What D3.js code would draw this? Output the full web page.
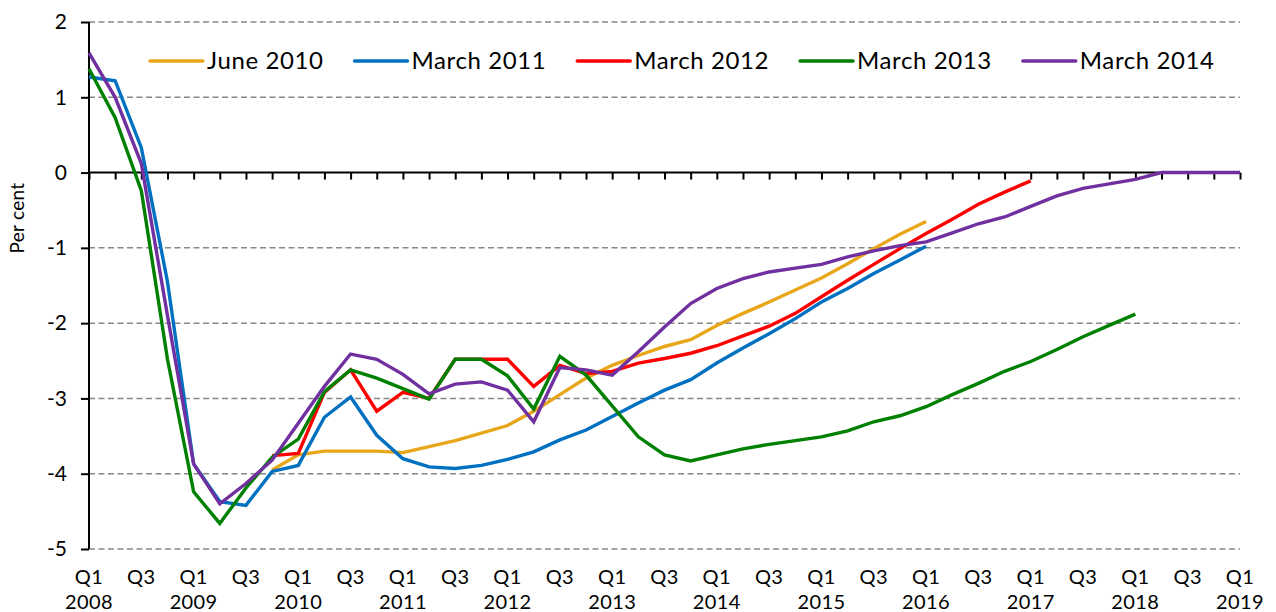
<!DOCTYPE html>
<html>
<head>
<meta charset="utf-8">
<script src="https://cdn.jsdelivr.net/npm/d3@7"></script>
<style>
  body { margin: 0; background: #fff; }
  svg { display: block; font-family: Lato, "Noto Sans", sans-serif; }
</style>
</head>
<body>
<div id="chart"></div>
<script>
var width = 1276, height = 612;

// quarter index 0 = Q1 2008, 44 = Q1 2019
var years = ["2008","2009","2010","2011","2012","2013","2014","2015","2016","2017","2018","2019"];

var june2010 = [-3.95,-3.75,-3.70,-3.70,-3.70,-3.72,-3.64,-3.56,-3.46,-3.36,-3.17,-2.95,-2.73,-2.56,-2.43,
                -2.31,-2.22,-2.03,-1.87,-1.72,-1.56,-1.40,-1.21,-1.01,-0.82,-0.65];
var june2010Start = 7;

var march2011 = [1.27,1.22,0.33,-1.45,-3.87,-4.37,-4.42,-3.97,-3.89,-3.25,-2.98,-3.49,-3.80,-3.91,-3.93,
                 -3.89,-3.81,-3.71,-3.55,-3.42,-3.24,-3.06,-2.89,-2.75,-2.53,-2.33,-2.14,-1.94,-1.72,
                 -1.54,-1.34,-1.16,-0.98];
var march2011Start = 0;

var march2012 = [-3.76,-3.73,-2.92,-2.62,-3.17,-2.92,-3.00,-2.48,-2.48,-2.48,-2.84,-2.56,-2.67,-2.64,-2.53,
                 -2.47,-2.40,-2.30,-2.17,-2.04,-1.87,-1.65,-1.43,-1.22,-1.01,-0.81,-0.62,-0.42,-0.26,-0.11];
var march2012Start = 7;

var march2013 = [1.38,0.73,-0.24,-2.48,-4.24,-4.66,-4.19,-3.78,-3.54,-2.91,-2.62,-2.73,-2.87,-3.01,-2.48,
                 -2.48,-2.70,-3.14,-2.44,-2.69,-3.10,-3.51,-3.75,-3.83,-3.75,-3.67,-3.61,-3.56,-3.51,
                 -3.43,-3.31,-3.23,-3.11,-2.95,-2.80,-2.64,-2.51,-2.35,-2.18,-2.03,-1.88];
var march2013Start = 0;

var march2014 = [1.59,1.00,0.12,-1.90,-3.87,-4.40,-4.13,-3.82,-3.33,-2.84,-2.41,-2.48,-2.68,-2.94,-2.81,
                 -2.78,-2.89,-3.31,-2.59,-2.62,-2.69,-2.38,-2.05,-1.74,-1.54,-1.41,-1.32,-1.27,-1.22,
                 -1.12,-1.04,-0.97,-0.92,-0.80,-0.68,-0.59,-0.45,-0.31,-0.21,-0.15,-0.09,0,0,0,0];
var march2014Start = 0;

var seriesNames = ["June 2010","March 2011","March 2012","March 2013","March 2014"];
var seriesColors = ["#E8A61A","#0070C0","#FF0000","#008000","#7030A0"];

var series = [
  {name: seriesNames[0], color: seriesColors[0], start: june2010Start, values: june2010},
  {name: seriesNames[1], color: seriesColors[1], start: march2011Start, values: march2011},
  {name: seriesNames[2], color: seriesColors[2], start: march2012Start, values: march2012},
  {name: seriesNames[3], color: seriesColors[3], start: march2013Start, values: march2013},
  {name: seriesNames[4], color: seriesColors[4], start: march2014Start, values: march2014}
];

var svg = d3.select("#chart").append("svg")
            .attr("width", width)
            .attr("height", height);

var xScale = d3.scaleLinear().domain([0, 44]).range([89, 1240]);
var yScale = d3.scaleLinear().domain([-5, 2]).range([549, 22]);

// dashed gridlines
svg.append("g")
   .selectAll("line")
   .data(d3.range(-5, 3).filter(function(v) { return v !== 0; }))
   .enter()
   .append("line")
   .attr("x1", xScale(0))
   .attr("x2", xScale(44))
   .attr("y1", function(d) { return yScale(d); })
   .attr("y2", function(d) { return yScale(d); })
   .style("stroke", "#888")
   .style("stroke-width", 1.5)
   .style("stroke-dasharray", "6,3.5");

// y axis
var yAxis = d3.axisLeft(yScale)
              .tickValues(d3.range(-5, 3))
              .tickSize(8)
              .tickPadding(14)
              .tickFormat(d3.format("d"));

var yg = svg.append("g")
            .attr("transform", "translate(" + xScale(0) + ",0)")
            .call(yAxis);
yg.select(".domain").attr("d", "M0," + yScale(-5) + "V" + yScale(2))
  .style("stroke", "#000").style("stroke-width", 2);
yg.selectAll(".tick line").style("stroke", "#000").style("stroke-width", 2);
yg.selectAll(".tick text")
  .style("font-size", "21px")
  .style("fill", "#000")
  .style("font-family", "Lato, sans-serif")
  .text(function(d) { return d < 0 ? "-" + Math.abs(d) : d; });

// zero line with quarterly ticks
var zeroAxis = d3.axisBottom(xScale)
                 .tickValues(d3.range(0, 45))
                 .tickSize(7)
                 .tickFormat("");
var zg = svg.append("g")
            .attr("transform", "translate(0," + yScale(0) + ")")
            .call(zeroAxis);
zg.select(".domain").attr("d", "M" + xScale(0) + ",0H" + xScale(44))
  .style("stroke", "#000").style("stroke-width", 2);
zg.selectAll(".tick line").style("stroke", "#000").style("stroke-width", 2);

// quarter / year labels along the bottom
var labelIdx = d3.range(0, 45, 2);
var xl = svg.append("g")
            .selectAll("text")
            .data(labelIdx)
            .enter()
            .append("text")
            .attr("text-anchor", "middle")
            .attr("x", function(d) { return xScale(d); })
            .attr("y", 584)
            .style("font-size", "20px")
            .style("letter-spacing", "0.4px")
            .style("fill", "#000");
xl.append("tspan")
  .attr("x", function(d) { return xScale(d); })
  .text(function(d) { return d % 4 === 0 ? "Q1" : "Q3"; });
xl.filter(function(d) { return d % 4 === 0; })
  .append("tspan")
  .attr("x", function(d) { return xScale(d); })
  .attr("dy", 25)
  .text(function(d) { return years[d / 4]; });

// y label
svg.append("text")
   .attr("transform", "translate(24,218) rotate(-90)")
   .attr("text-anchor", "middle")
   .style("font-size", "19px")
   .style("letter-spacing", "0.3px")
   .style("fill", "#000")
   .text("Per cent");

// lines
var line = d3.line()
             .x(function(d) { return xScale(d.i); })
             .y(function(d) { return yScale(d.v); });

svg.append("g")
   .selectAll("path")
   .data(series)
   .enter()
   .append("path")
   .attr("d", function(s) {
     return line(s.values.map(function(v, k) { return {i: s.start + k, v: v}; }));
   })
   .style("fill", "none")
   .style("stroke", function(s) { return s.color; })
   .style("stroke-width", 3.4)
   .style("stroke-linejoin", "miter");

// legend
var lx = 150, ly = 61;
series.forEach(function(s) {
  var g = svg.append("g");
  g.append("line")
   .attr("x1", lx).attr("x2", lx + 53)
   .attr("y1", ly).attr("y2", ly)
   .style("stroke", s.color)
   .style("stroke-width", 3.4)
   .style("stroke-linecap", "round");
  var t = g.append("text")
           .attr("x", lx + 57)
           .attr("y", ly + 8)
           .style("font-size", "24px")
           .style("letter-spacing", "0.6px")
           .style("fill", "#000")
           .text(s.name);
  lx = lx + 57 + t.node().getComputedTextLength() + 31;
});
</script>
</body>
</html>
